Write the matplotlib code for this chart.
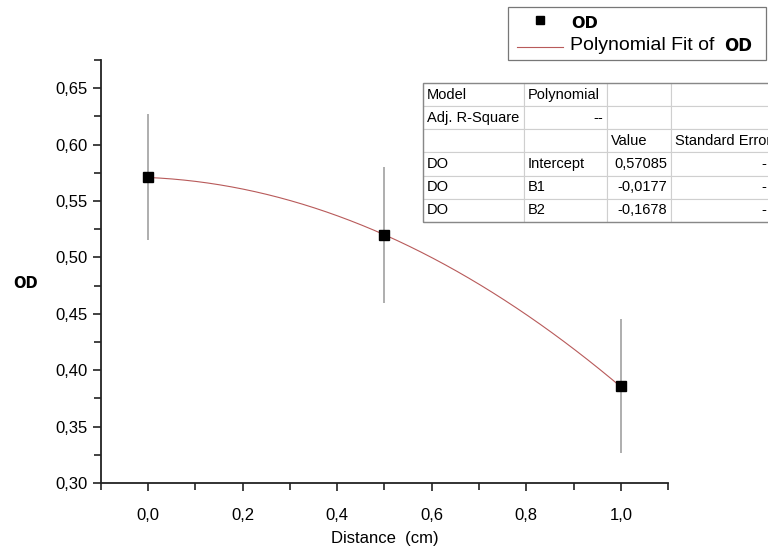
import numpy as np
import matplotlib.pyplot as plt
from matplotlib.patches import Rectangle
from matplotlib.lines import Line2D
from matplotlib.ticker import MultipleLocator, FuncFormatter

plt.rcParams['font.family'] = ['Liberation Sans', 'DejaVu Sans']

# data
distance = [0.0, 0.5, 1.0]
od = [0.571, 0.520, 0.386]
od_err = [0.056, 0.060, 0.059]

# polynomial fit coefficients (intercept, B1, B2)
coef = [0.57085, -0.0177, -0.1678]

table_rows = [
    ["Model", "Polynomial", "", ""],
    ["Adj. R-Square", "--", "", ""],
    ["", "", "Value", "Standard Error"],
    ["DO", "Intercept", "0,57085", "-"],
    ["DO", "B1", "-0,0177", "-"],
    ["DO", "B2", "-0,1678", "-"],
]


def comma(v, pos):
    return ("%.2f" % v).replace(".", ",")


def comma1(v, pos):
    return ("%.1f" % v).replace(".", ",")


fig = plt.figure(figsize=(7.68, 5.5), dpi=100)
ax = fig.add_axes([0.1315, 0.1218, 0.7383, 0.7691])

xs = np.linspace(0, 1, 200)
ys = coef[0] + coef[1] * xs + coef[2] * xs ** 2
ax.plot(xs, ys, color='#b85a5a', lw=0.8, zorder=2)
ax.errorbar(distance, od, yerr=od_err, fmt='none', ecolor='#a8a8a8', elinewidth=1.3, capsize=0, zorder=1)
ax.plot(distance, od, 's', color='black', ms=7.5, zorder=3)

ax.set_xlim(-0.1, 1.1)
ax.set_ylim(0.30, 0.675)
ax.xaxis.set_major_locator(MultipleLocator(0.2))
ax.xaxis.set_minor_locator(MultipleLocator(0.1))
ax.yaxis.set_major_locator(MultipleLocator(0.05))
ax.yaxis.set_minor_locator(MultipleLocator(0.025))
ax.xaxis.set_major_formatter(FuncFormatter(comma1))
ax.yaxis.set_major_formatter(FuncFormatter(comma))
ax.tick_params(which='both', direction='out', width=1.2, labelsize=12, color='#222222')
ax.tick_params(which='major', length=6)
ax.tick_params(which='minor', length=5)
ax.tick_params(axis='x', pad=12)
for s in ['top', 'right']:
    ax.spines[s].set_visible(False)
for s in ['left', 'bottom']:
    ax.spines[s].set_linewidth(1.3)
    ax.spines[s].set_color('#222222')

ax.set_xlabel("Distance  (cm)", fontsize=12, labelpad=6)
fig.text(26 / 768, 1 - 283 / 550, "OD", fontsize=10.5, fontweight='bold',
         family='DejaVu Sans', ha='center', va='center')

# results table
tax = fig.add_axes([0, 0, 1, 1])
tax.axis('off')
tax.set_xlim(0, 1)
tax.set_ylim(0, 1)
widths = [101, 83, 64, 99]
x0 = 423 / 768
tw = sum(widths) / 768
tb = 1 - 222 / 550
th = 139 / 550
tbl = tax.table(cellText=table_rows, colWidths=[w / 768 for w in widths],
                bbox=[x0, tb, tw, th], cellLoc='left')
tbl.auto_set_font_size(False)
tbl.set_fontsize(10.5)
for (r, c), cell in tbl.get_celld().items():
    cell.set_edgecolor('#cfcfcf')
    cell.set_linewidth(0.8)
    cell.PAD = 4.0 / widths[c]
    txt = cell.get_text()
    if (r == 1 and c == 1) or (r >= 3 and c >= 2):
        txt.set_ha('right')
        cell._loc = 'right'
fig.add_artist(Rectangle((x0, tb), tw, th, fill=False,
                         edgecolor='#888888', lw=1.0, transform=fig.transFigure))

# legend box
fig.add_artist(Rectangle((508 / 768, 1 - 60 / 550), 258 / 768, 53 / 550, fill=False,
                         edgecolor='#777777', lw=0.9, transform=fig.transFigure))
fig.add_artist(Line2D([540 / 768], [1 - 20 / 550], marker='s', color='black', ms=6,
                      transform=fig.transFigure))
fig.text(571 / 768, 1 - 24 / 550, "OD", fontsize=11.5, fontweight='bold',
         family='DejaVu Sans', va='center')
fig.add_artist(Line2D([517 / 768, 563 / 768], [1 - 47 / 550, 1 - 47 / 550], color='#b85a5a', lw=0.8,
                      transform=fig.transFigure))
fig.text(570 / 768, 1 - 46 / 550, "Polynomial Fit of", fontsize=14, va='center')
fig.text(724 / 768, 1 - 46 / 550, "OD", fontsize=12, fontweight='bold',
         family='DejaVu Sans', va='center')

fig.savefig("out.png", dpi=100)
